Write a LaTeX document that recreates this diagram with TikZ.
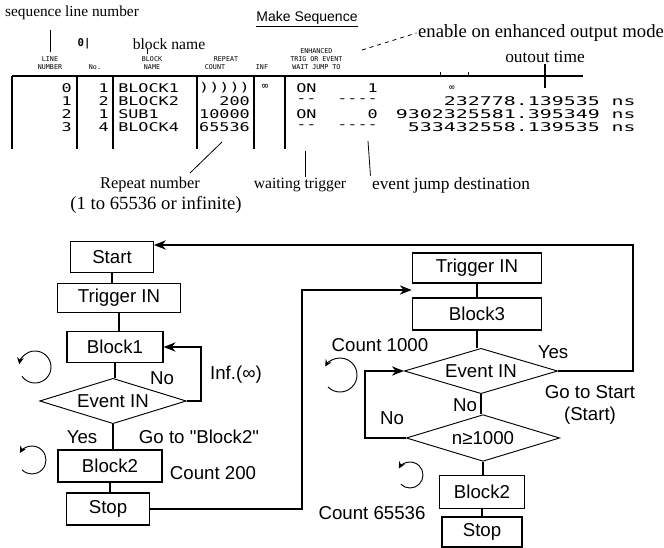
\documentclass[tikz,border=0pt]{standalone}
\usepackage{fontspec}
\setmainfont{Liberation Serif}
\setsansfont{Liberation Sans}
\setmonofont{DejaVu Sans Mono}
\newfontfamily\tablefont[FakeStretch=1.4]{DejaVu Sans Mono}
\newfontfamily\timefont[FakeStretch=1.66]{DejaVu Sans Mono}
\newcommand\dquote{\XeTeXglyph\XeTeXcharglyph"22\relax}
\usetikzlibrary{arrows.meta, positioning, shapes.geometric}

\begin{document}
\begin{tikzpicture}[
    x=0.75pt, y=-0.75pt,
    font=\sffamily,
    % Box Styles
    block/.style={
        rectangle, draw=black, line width=0.9pt, inner sep=0pt,
        font=\sffamily\fontsize{14}{16}\selectfont
    },
    decision/.style={
        diamond, aspect=3, draw=black, line width=0.7pt, inner sep=0pt,
        font=\sffamily\fontsize{14}{16}\selectfont
    },
    % Text Styles
    note/.style={inner sep=1pt, align=center},
    flowlabel/.style={font=\sffamily\fontsize{14}{16}\selectfont, inner sep=1pt, align=center},
    cell/.style={font=\tablefont\fontsize{9}{10}\selectfont, inner sep=0pt},
    timecell/.style={font=\timefont\fontsize{9}{10}\selectfont, inner sep=0pt},
    head/.style={font=\ttfamily\fontsize{5}{6}\selectfont, inner sep=0pt, align=center},
    % Line Styles
    rule/.style={line width=0.8pt},
    leader/.style={line width=0.6pt},
    link/.style={line width=0.9pt},
    flowArrow/.style={-{Stealth[length=9pt, width=7pt]}, line width=0.9pt},
    cycleArrow/.style={-{Stealth[length=5pt, width=5pt]}, line width=0.7pt}
]
    \useasboundingbox (0,0) rectangle (664,548);

    % --- NOTES ABOVE THE TABLE ---
    \node[note, font=\rmfamily\fontsize{11.5}{13}\selectfont] (seqNote) at (72,13) {sequence line number};
    \node[font=\sffamily\fontsize{10.5}{12}\selectfont] (title) at (307,19) {\underline{Make Sequence}};
    \node[note, font=\rmfamily\fontsize{11.7}{13}\selectfont] (blockNote) at (169,44) {block name};
    \node[note, font=\rmfamily\fontsize{14}{16}\selectfont] (enableNote) at (541,33) {enable on enhanced output mode};
    \node[note, font=\rmfamily\fontsize{13}{15}\selectfont] (timeNote) at (545,57) {outout time};
    \node[font=\ttfamily\bfseries\fontsize{8}{9}\selectfont, inner sep=0pt] (cursor) at (84,44) {0|};

    \coordinate (seqTop) at (50,30);
    \coordinate (seqEnd) at (50,52);
    \coordinate (blockEnd) at (147,54);
    \coordinate (enhEnd) at (362,50);
    \draw[leader] (seqTop) -- (seqEnd);
    \draw[leader] (blockEnd) -- ++(0,-5);
    \draw[leader, dashed] (enhEnd) -- (enableNote.west);

    % --- TABLE ---
    \draw[rule] (12,76) -- (583,76);
    \foreach \x in {12, 77, 113, 197, 254, 285}
        \draw[rule] (\x,76) -- (\x,149);
    \foreach \x in {440, 468}
        \draw[leader] (\x,72) -- (\x,76);
    \draw[rule] (545,64) -- (545,88);

    % column titles
    \node[head] (hLine) at (50,63) {LINE\\NUMBER};
    \node[head] (hNo) at (95,67) {No.};
    \node[head] (hName) at (152,63) {BLOCK\\NAME};
    \node[head] (hRep) at (226,59) {REPEAT};
    \node[head] (hCnt) at (215,67) {COUNT};
    \node[head] (hInf) at (262,67) {INF};
    \node[head, anchor=west] (hEnh) at (290,59) {ENHANCED\\TRIG OR EVENT\\WAIT JUMP TO};

    % rows
    \foreach \y/\ln/\no/\nm/\cnt/\trg/\jmp/\tm [count=\r] in {
        88/0/1/BLOCK1/{)))))}/ON/1/{},
        101/1/2/BLOCK2/200/--/----/232778.139535 ns,
        114/2/1/SUB1/10000/ON/0/9302325581.395349 ns,
        127/3/4/BLOCK4/65536/--/----/533432558.139535 ns} {
        \node[cell, anchor=east] (ln\r) at (72,\y) {\ln};
        \node[cell, anchor=east] (no\r) at (109,\y) {\no};
        \node[cell, anchor=west] (nm\r) at (118,\y) {\nm};
        \node[cell, anchor=east] (cnt\r) at (250,\y) {\cnt};
        \node[cell, anchor=west] (trg\r) at (296,\y) {\trg};
        \node[cell, anchor=east] (jmp\r) at (378,\y) {\jmp};
        \node[timecell, anchor=east] (tm\r) at (636,\y) {\tm};
    }
    \node[cell, font=\ttfamily\fontsize{8}{9}\selectfont] (inf1) at (265,87) {∞};
    \node[cell, font=\ttfamily\fontsize{7}{8}\selectfont] (out1) at (452,88) {∞};

    % --- NOTES BELOW THE TABLE ---
    \node[note, font=\rmfamily\fontsize{12.3}{14}\selectfont] (repNote) at (150,185) {Repeat number};
    \node[note, font=\rmfamily\fontsize{14}{16}\selectfont] (rangeNote) at (156,205) {(1 to 65536 or infinite)};
    \node[note, font=\rmfamily\fontsize{11.7}{13}\selectfont] (waitNote) at (300,185) {waiting trigger};
    \node[note, font=\rmfamily\fontsize{13}{15}\selectfont] (jumpNote) at (451,185) {event jump destination};

    \coordinate (repTip) at (222,142);
    \coordinate (repFoot) at (190,173);
    \coordinate (waitTip) at (305,151);
    \coordinate (jumpTip) at (368,141);
    \draw[leader] (repTip) -- (repFoot);
    \draw[leader] (waitTip) -- (waitTip |- waitNote.north);
    \draw[leader] (jumpTip) -- (jumpNote.north west);

    % --- LEFT FLOW ---
    \node[block, minimum width=62pt, minimum height=23pt] (startA) at (112,257) {Start};
    \node[block, minimum width=92pt, minimum height=22pt] (trigA) at (119,298) {Trigger IN};
    \node[block, minimum width=72pt, minimum height=23pt] (blockA) at (115,347) {Block1};
    \node[decision, minimum width=110pt, minimum height=34pt] (eventA) at (113,401) {Event IN};
    \node[block, minimum width=78pt, minimum height=24pt] (blockB) at (110,466) {Block2};
    \node[block, minimum width=62pt, minimum height=24pt] (stopA) at (108,509) {Stop};

    \node[flowlabel] (noA) at (162,378) {No};
    \node[flowlabel] (infA) at (236,375) {Inf.(∞)};
    \node[flowlabel] (yesA) at (82,437) {Yes};
    \node[flowlabel] (gotoA) at (199,437) {Go to \dquote Block2\dquote};
    \node[flowlabel] (cntA) at (213,473) {Count 200};

    % --- RIGHT FLOW ---
    \node[block, minimum width=97pt, minimum height=22.5pt] (trigB) at (477,268) {Trigger IN};
    \node[block, minimum width=97pt, minimum height=24pt] (block3) at (477,314) {Block3};
    \node[decision, minimum width=115pt, minimum height=34pt] (eventB) at (481,371) {Event IN};
    \node[decision, minimum width=115pt, minimum height=35pt] (cond) at (483,438) {n≥1000};
    \node[block, minimum width=64pt, minimum height=25pt] (blockC) at (482,492) {Block2};
    \node[block, minimum width=60pt, minimum height=22.5pt] (stopB) at (482,532) {Stop};

    \node[flowlabel] (cntB) at (380,345) {Count 1000};
    \node[flowlabel] (yesB) at (553,352) {Yes};
    \node[flowlabel] (gotoB) at (590,405) {Go to Start\\(Start)};
    \node[flowlabel] (noB) at (465,405) {No};
    \node[flowlabel] (noC) at (392,418) {No};
    \node[flowlabel] (cntC) at (372,513) {Count 65536};

    % --- LINKS ---
    \draw[link] (startA.south) -- (startA.south |- trigA.north);
    \draw[link] (trigA.south) -- (trigA.south |- blockA.north);
    \draw[link] (blockA.south) -- (blockA.south |- eventA.north);
    \draw[link] (eventA.south) -- (eventA.south |- blockB.north);
    \draw[link] (blockB.south) -- (blockB.south |- stopA.north);

    \draw[link] (trigB.south) -- (trigB.south |- block3.north);
    \draw[link] (block3.south) -- (block3.south |- eventB.north);
    \draw[link] (eventB.south) -- (eventB.south |- cond.north);
    \draw[link] (cond.south) -- (cond.south |- blockC.north);
    \draw[link] (blockC.south) -- (blockC.south |- stopB.north);

    % --- ARROWS ---
    \coordinate (loopA) at (201,347);
    \coordinate (jumpA) at (302,290);
    \coordinate (backB) at (633,245);
    \coordinate (loopB) at (365,371);
    \draw[flowArrow] (eventA.east) -| (loopA) -- (blockA.east);
    \draw[flowArrow] (stopA.east) -| (jumpA) -- (jumpA -| trigB.west);
    \draw[flowArrow] (eventB.east) -| (backB) -- (backB -| startA.east);
    \draw[flowArrow] (cond.west) -| (loopB) -- (eventB.west);

    % repeat marks
    \coordinate (cycA) at (35,367);
    \coordinate (cycB) at (32,460);
    \coordinate (cycC) at (340,375);
    \coordinate (cycD) at (410,475);
    \draw[cycleArrow] ([shift={(-215:16)}]cycA) arc[start angle=-215, end angle=-530, radius=16];
    \draw[cycleArrow] ([shift={(-225:14)}]cycB) arc[start angle=-225, end angle=-510, radius=14];
    \draw[cycleArrow] ([shift={(-225:17)}]cycC) arc[start angle=-225, end angle=-510, radius=17];
    \draw[cycleArrow] ([shift={(-225:13)}]cycD) arc[start angle=-225, end angle=-510, radius=13];

\end{tikzpicture}
\end{document}
